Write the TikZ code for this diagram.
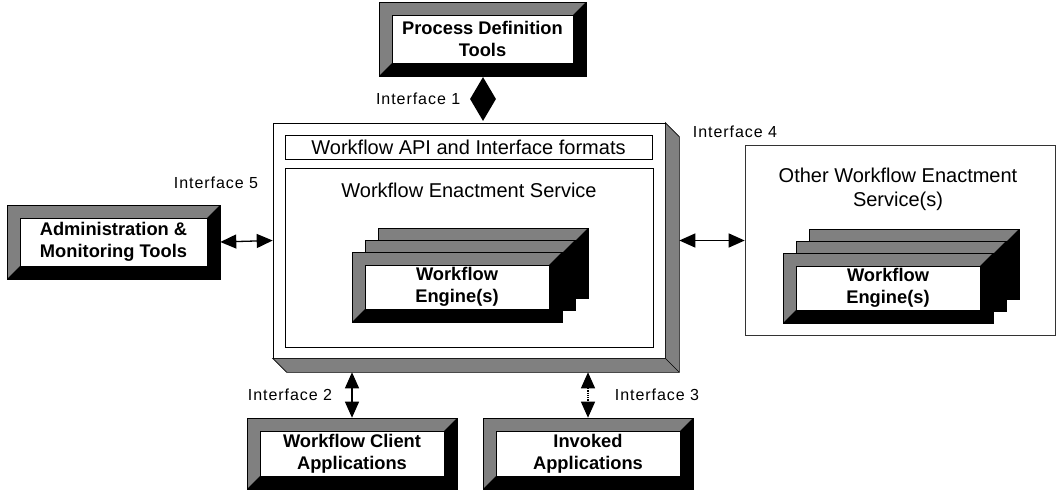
\documentclass[tikz,border=0pt]{standalone}
\usepackage{fontspec}
\setmainfont{Liberation Sans}
\newfontfamily\ifacefont[LetterSpace=6]{Liberation Sans}
\usetikzlibrary{arrows.meta,calc,shapes.geometric}
\definecolor{bevelgray}{gray}{0.5}
\tikzset{
    bevel/.style={fill=bevelgray, draw=black, line width=0.6pt, inner sep=0pt, align=center,
        font=\fontsize{18.3}{22}\selectfont\bfseries,
        path picture={
            \fill[black] (path picture bounding box.north east) -- (path picture bounding box.south east)
                -- (path picture bounding box.south west) -- ([shift={(13pt,13pt)}]path picture bounding box.south west)
                -- ([shift={(-13pt,13pt)}]path picture bounding box.south east)
                -- ([shift={(-13pt,-13pt)}]path picture bounding box.north east) -- cycle;
            \draw[fill=white, line width=0.6pt] ([shift={(13pt,-13pt)}]path picture bounding box.north west)
                rectangle ([shift={(-13pt,13pt)}]path picture bounding box.south east);
        }},
    engine/.style={bevel, minimum width=210pt, minimum height=70pt},
    plainbox/.style={draw=black, line width=0.6pt, inner sep=0pt, fill=white},
    iface/.style={font=\fontsize{16}{19}\ifacefont},
    svc/.style={font=\fontsize{20}{24}\selectfont, align=center},
    link/.style={{Triangle[length=16pt,width=14pt]}-{Triangle[length=16pt,width=14pt]}, line width=1.3pt}
}
\begin{document}
\begin{tikzpicture}[x=1pt,y=-1pt]
    \useasboundingbox (0,0) rectangle (1057,490);
        \node[plainbox, minimum width=392pt, minimum height=235pt] (wes) at (469,240.5) {};
        \fill[bevelgray, draw=black, line width=0.6pt] (wes.north east) -- ++(14,14) -- ($(wes.south east)+(14,14)$)
            -- ($(wes.south west)+(14,14)$) -- (wes.south west) -- (wes.south east) -- cycle;
        \draw[line width=0.6pt] (wes.south east) -- ++(14,14);
        \coordinate (wesside) at ($(wes.east)+(14,0)$);
        \coordinate (wesbase) at ($(wes.south)+(0,14)$);
        \node[plainbox, minimum width=367pt, minimum height=24pt, svc] (api) at (468.5,147) {Workflow API and Interface formats};
        \node[plainbox, minimum width=368pt, minimum height=179pt] (enact) at (469,257.5) {};
        \node[svc] (enactlbl) at (469,190) {Workflow Enactment Service};
        \foreach \k in {2,1}
            \node[engine] (weng\k) at (457+13*\k,287-12*\k) {};
        \node[engine] (weng0) at (457,287) {Workflow\\Engine(s)};
        \node[draw=black!80, line width=0.6pt, minimum width=310pt, minimum height=190pt, inner sep=0pt] (owes) at (900,240) {};
        \node[svc] (oweslbl) at (898,189) {Other Workflow Enactment\\Service(s)};
        \foreach \k in {2,1}
            \node[engine] (oeng\k) at (888+13*\k,288-12*\k) {};
        \node[engine] (oeng0) at (888,288) {Workflow\\Engine(s)};
        \node[bevel, minimum width=207pt, minimum height=74pt] (pdt) at (482.5,39) {Process Definition\\Tools};
        \node[bevel, minimum width=213pt, minimum height=74pt] (admin) at (113.5,242) {Administration \&\\Monitoring Tools};
        \node[bevel, minimum width=210pt, minimum height=71pt] (client) at (352,453.5) {Workflow Client\\Applications};
        \node[bevel, minimum width=210pt, minimum height=71pt] (invoked) at (588,453.5) {Invoked\\Applications};
        \node[diamond, fill=black, inner sep=0pt, minimum width=26pt, minimum height=44pt] (if1) at (483,99) {};
        \draw[link] (admin.east) -- (wes.west);
        \draw[link] (wesside) -- (owes.west |- wesside);
        \draw[link] (wesbase -| client.north) -- (client.north);
        \draw[link, densely dotted] (wesbase -| invoked.north) -- (invoked.north);
        \node[iface, anchor=east] (lbl1) at ([xshift=-6pt]if1.west) {Interface 1};
        \node[iface] (lbl5) at (216,183) {Interface 5};
        \node[iface] (lbl4) at (735,132) {Interface 4};
        \node[iface] (lbl2) at (290,395) {Interface 2};
        \node[iface] (lbl3) at (657,395) {Interface 3};
    \end{tikzpicture}
\end{document}
